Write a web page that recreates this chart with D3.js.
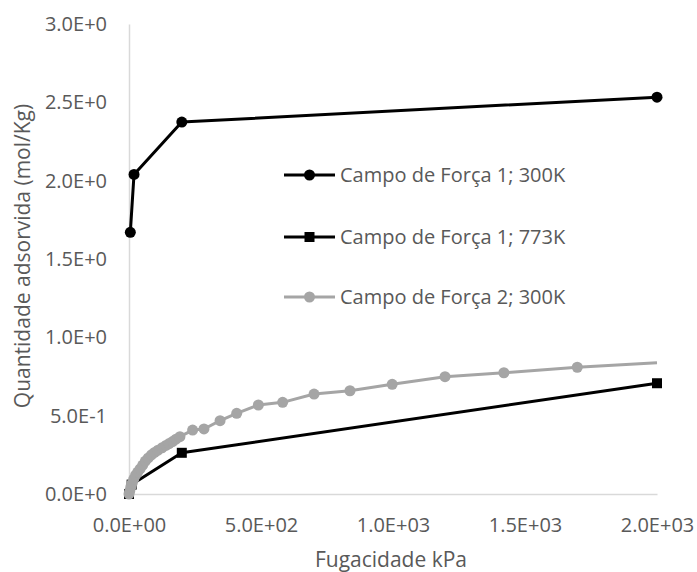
<html>
  <head>
    <meta charset="utf-8" />
    <script src="https://d3js.org/d3.v7.min.js"></script>
  </head>
  <style>
    body { margin: 0; background: #fff; }
    svg { font-family: "Open Sans", sans-serif; }
  </style>
  <body>
    <div id="viz"><svg width="697" height="572"></svg></div>
    <script>
      // fugacity (kPa) and adsorbed amount (mol/kg)
      var ff1_300_x = [5, 19, 200, 2000];
      var ff1_300_y = [1.67, 2.04, 2.374, 2.533];
      var ff1_773_x = [0, 10, 200, 2000];
      var ff1_773_y = [0, 0.06, 0.263, 0.707];
      var ff2_300_x = [0, 3, 7, 12, 18, 25, 33, 42, 52, 62, 73, 85, 97, 110, 125, 140, 152, 165, 178, 193, 241, 284, 345, 408, 490, 582, 701, 837, 997, 1197, 1420, 1698, 2000];
      var ff2_300_y = [0, 0.02, 0.045, 0.07, 0.095, 0.12, 0.14, 0.16, 0.185, 0.21, 0.23, 0.25, 0.265, 0.28, 0.295, 0.31, 0.322, 0.335, 0.35, 0.366, 0.408, 0.415, 0.468, 0.515, 0.568, 0.585, 0.638, 0.659, 0.7, 0.749, 0.774, 0.809, 0.838];
      var seriesNames = ["Campo de Força 1; 300K", "Campo de Força 1; 773K", "Campo de Força 2; 300K"];
      var xTicks = [0, 500, 1000, 1500, 2000];
      var yTicks = [0, 0.5, 1, 1.5, 2, 2.5, 3];

      var series = [
        { name: seriesNames[0], xs: ff1_300_x, ys: ff1_300_y, color: "#000", shape: "circle", lastMarker: true },
        { name: seriesNames[1], xs: ff1_773_x, ys: ff1_773_y, color: "#000", shape: "square", lastMarker: true },
        { name: seriesNames[2], xs: ff2_300_x, ys: ff2_300_y, color: "#a5a5a5", shape: "circle", lastMarker: false }
      ];

      var svg = d3.select("svg");
      var x = d3.scaleLinear().domain([0, 2000]).range([129, 657]);
      var y = d3.scaleLinear().domain([0, 3]).range([494, 24]);

      function sci(v, pad) {
        var e = v === 0 ? 0 : Math.floor(Math.log10(Math.abs(v)) + 1e-9);
        var m = v / Math.pow(10, e);
        var es = String(Math.abs(e));
        if (pad && es.length < 2) es = "0" + es;
        return m.toFixed(1) + "E" + (e < 0 ? "-" : "+") + es;
      }

      // axes
      var xAxis = svg.append("g").attr("transform", "translate(0," + y(0) + ")")
        .call(d3.axisBottom(x).tickValues(xTicks).tickSize(0)
          .tickFormat(function (d) { return sci(d, true); }));
      xAxis.selectAll("text").attr("dy", null).attr("y", 38);
      var yAxis = svg.append("g").attr("transform", "translate(" + x(0) + ",0)")
        .call(d3.axisLeft(y).tickValues(yTicks).tickSize(0).tickPadding(22)
          .tickFormat(function (d) { return sci(d, false); }));
      [xAxis, yAxis].forEach(function (g) {
        g.select(".domain").attr("stroke", "#d9d9d9").attr("stroke-width", 1.5);
        g.selectAll("text").attr("fill", "#595959").style("font-size", "20px")
          .style("font-family", "'Open Sans', sans-serif");
      });

      svg.append("text").attr("x", 391).attr("y", 567).attr("text-anchor", "middle")
        .attr("fill", "#595959").style("font-size", "21px").text("Fugacidade kPa");
      svg.append("text").attr("transform", "translate(30,256) rotate(-90)")
        .attr("text-anchor", "middle").attr("fill", "#595959").style("font-size", "21px")
        .text("Quantidade adsorvida (mol/Kg)");

      var line = d3.line().x(function (d) { return x(d[0]); }).y(function (d) { return y(d[1]); });

      function marker(g, shape, color, cx, cy) {
        if (shape === "circle") {
          g.append("circle").attr("cx", cx).attr("cy", cy).attr("r", 5.5).attr("fill", color);
        } else {
          g.append("rect").attr("x", cx - 5).attr("y", cy - 5).attr("width", 10).attr("height", 10).attr("fill", color);
        }
      }

      series.forEach(function (s) {
        var pts = s.xs.map(function (v, i) { return [v, s.ys[i]]; });
        var g = svg.append("g");
        g.append("path").datum(pts).attr("d", line).attr("fill", "none")
          .attr("stroke", s.color).attr("stroke-width", 3).attr("stroke-linejoin", "round");
        pts.forEach(function (p, i) {
          if (i === pts.length - 1 && !s.lastMarker) return;
          marker(g, s.shape, s.color, x(p[0]), y(p[1]));
        });
      });

      // legend
      var legY = [175, 237, 297];
      series.forEach(function (s, i) {
        var g = svg.append("g");
        g.append("line").attr("x1", 284).attr("x2", 335).attr("y1", legY[i]).attr("y2", legY[i])
          .attr("stroke", s.color).attr("stroke-width", 3);
        marker(g, s.shape, s.color, 309.5, legY[i]);
        g.append("text").attr("x", 340).attr("y", legY[i]).attr("dy", "0.35em")
          .attr("fill", "#595959").style("font-size", "20px").text(s.name);
      });
    </script>
  </body>
</html>
